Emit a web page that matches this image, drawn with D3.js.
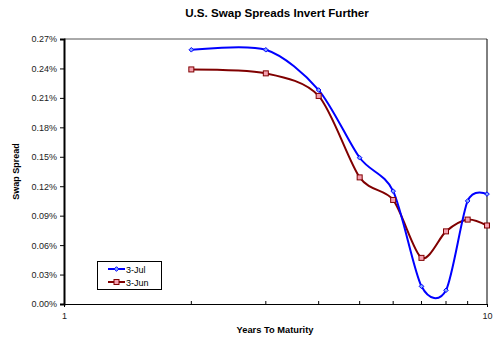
<!DOCTYPE html>
<html><head><meta charset="utf-8">
<script src="https://cdn.jsdelivr.net/npm/d3@7"></script>
<style>body{margin:0;background:#fff}svg{display:block}text{font-family:"Liberation Sans",Arial,sans-serif}</style>
</head><body>
<svg id="c" width="493" height="339"></svg>
<script>
const years = [2, 3, 4, 5, 6, 7, 8, 9, 10];
const jul = [0.259, 0.259, 0.218, 0.149, 0.115, 0.018, 0.014, 0.105, 0.112];
const jun = [0.239, 0.235, 0.212, 0.129, 0.106, 0.047, 0.074, 0.086, 0.080];
const yTicks = [0, 0.03, 0.06, 0.09, 0.12, 0.15, 0.18, 0.21, 0.24, 0.27];
const xMajor = [1, 10];
const xMinor = [2, 3, 4, 5, 6, 7, 8, 9];
const seriesNames = ["3-Jul", "3-Jun"];

const svg = d3.select("#c");
const L = 64, R = 487, T = 39, B = 304;
const x = d3.scaleLog().domain([1, 10]).range([L, R]);
const y = d3.scaleLinear().domain([0, 0.27]).range([B, T]);

svg.append("text").attr("x", 277).attr("y", 17).attr("text-anchor", "middle")
  .attr("font-size", 11.6).attr("font-weight", "bold").text("U.S. Swap Spreads Invert Further");

// frame top/right
svg.append("line").attr("x1", L).attr("x2", R).attr("y1", T).attr("y2", T).attr("stroke", "#555").attr("stroke-width", 1);
svg.append("line").attr("x1", R).attr("x2", R).attr("y1", T).attr("y2", B).attr("stroke", "#000").attr("stroke-width", 1);

// y axis
const ya = svg.append("g").attr("transform", `translate(${L},0)`)
  .call(d3.axisLeft(y).tickValues(yTicks).tickFormat(d => d.toFixed(2) + "%").tickSize(4).tickPadding(3));
ya.select(".domain").attr("stroke", "#000").attr("stroke-width", 2);
ya.selectAll("text").attr("font-size", 9).attr("fill", "#222").attr("font-family", "Liberation Sans, Arial");

// x axis
const xa = svg.append("g").attr("transform", `translate(0,${B})`)
  .call(d3.axisBottom(x).tickValues(xMajor).tickFormat(d3.format("d")).tickSize(3).tickPadding(6).tickSizeOuter(0));
xa.select(".domain").attr("stroke", "#000").attr("stroke-width", 1.2);
xa.selectAll("text").attr("font-size", 9).attr("fill", "#222").attr("font-family", "Liberation Sans, Arial");
svg.append("g").attr("transform", `translate(0,${B})`).selectAll("line").data(xMinor).join("line")
  .attr("x1", d => x(d)).attr("x2", d => x(d)).attr("y1", 0).attr("y2", -3).attr("stroke", "#000");

svg.append("text").attr("transform", `translate(19,${(T + B) / 2}) rotate(-90)`).attr("text-anchor", "middle")
  .attr("font-size", 9).attr("font-weight", "bold").text("Swap Spread");
svg.append("text").attr("x", 275).attr("y", 333).attr("text-anchor", "middle")
  .attr("font-size", 9.3).attr("font-weight", "bold").text("Years To Maturity");

const line = d3.line().x((d, i) => x(years[i])).y(d => y(d)).curve(d3.curveCardinal.tension(0.15));
svg.append("path").datum(jun).attr("d", line).attr("fill", "none").attr("stroke", "#800000").attr("stroke-width", 2);
svg.append("path").datum(jul).attr("d", line).attr("fill", "none").attr("stroke", "#0000ff").attr("stroke-width", 2);

function square(g, cx, cy) {
  g.append("rect").attr("x", cx - 2.5).attr("y", cy - 2.5).attr("width", 5).attr("height", 5)
    .attr("fill", "#f4a0b0").attr("stroke", "#800000").attr("stroke-width", 1);
}
function diamond(g, cx, cy) {
  g.append("path").attr("d", `M${cx},${cy - 2.3}L${cx + 2.3},${cy}L${cx},${cy + 2.3}L${cx - 2.3},${cy}Z`)
    .attr("fill", "#80a8ff").attr("stroke", "#0000ff").attr("stroke-width", 1);
}
const mg = svg.append("g");
jun.forEach((v, i) => square(mg, x(years[i]), y(v)));
jul.forEach((v, i) => diamond(mg, x(years[i]), y(v)));

// legend
const lg = svg.append("g");
lg.append("rect").attr("x", 97.5).attr("y", 261.5).attr("width", 64).attr("height", 28).attr("fill", "#fff").attr("stroke", "#000");
[[seriesNames[0], "#0000ff", diamond, 269], [seriesNames[1], "#800000", square, 282]].forEach(([n, c, m, ly]) => {
  lg.append("line").attr("x1", 108).attr("x2", 125).attr("y1", ly).attr("y2", ly).attr("stroke", c).attr("stroke-width", 2);
  m(lg, 116.5, ly);
  lg.append("text").attr("x", 126).attr("y", ly + 3.5).attr("font-size", 9).attr("fill", "#000").text(n);
});
</script>
</body></html>
